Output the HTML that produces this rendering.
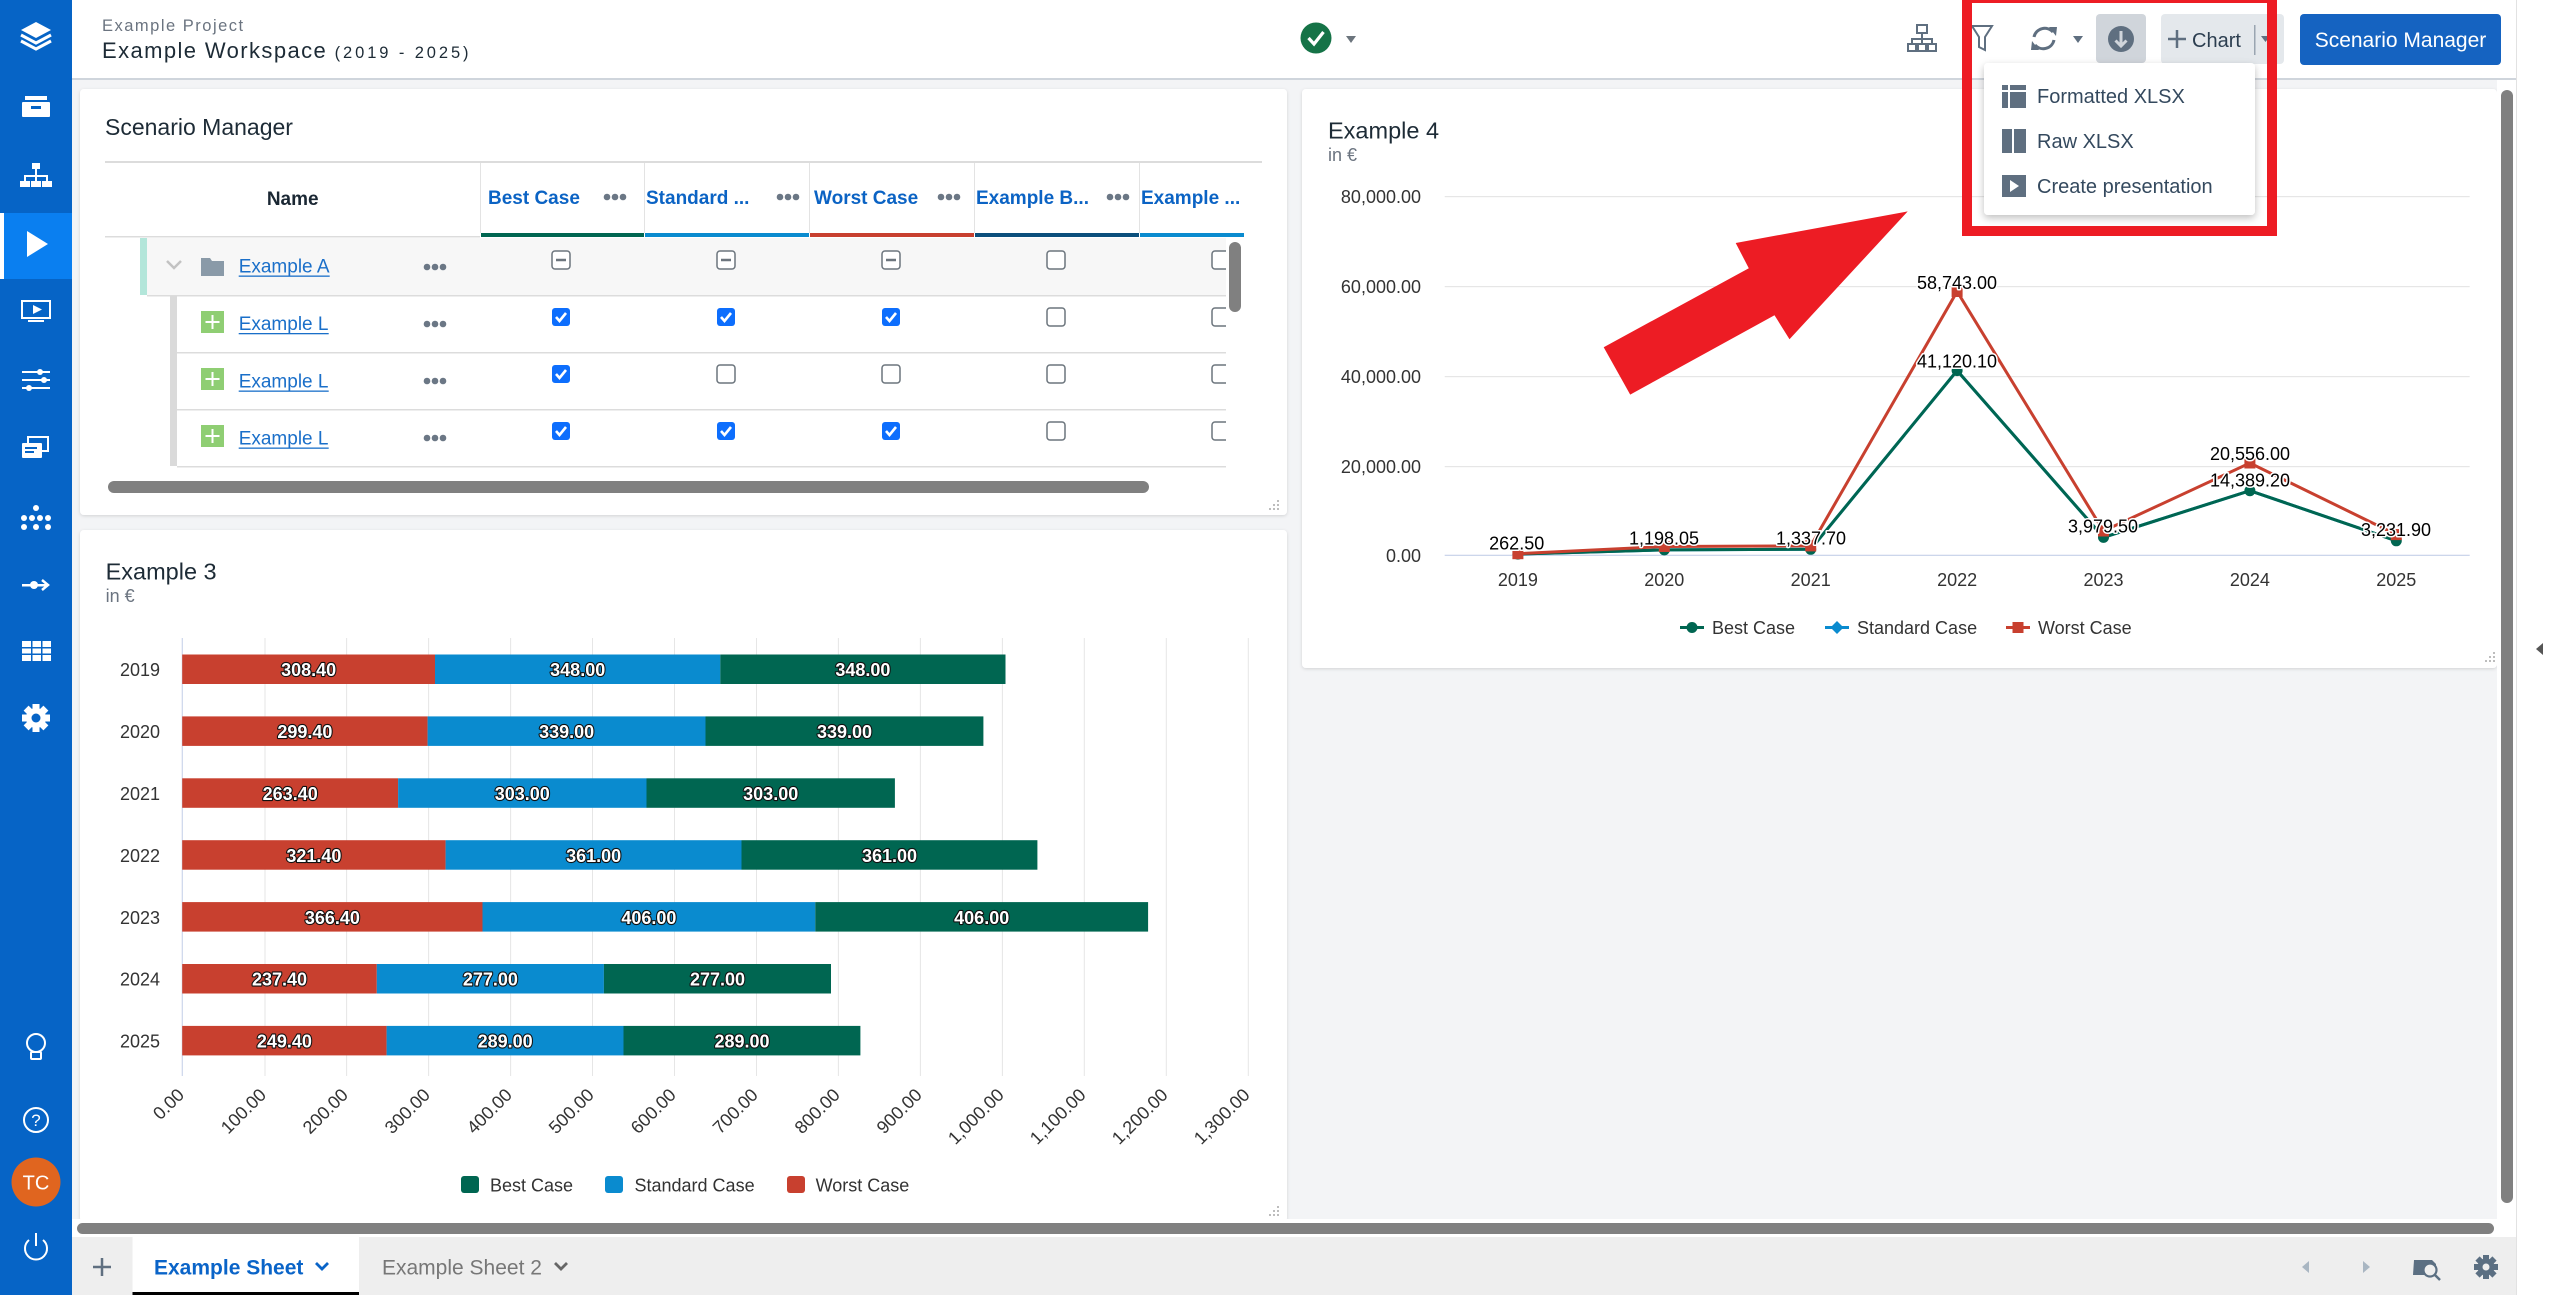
<!DOCTYPE html>
<html><head><meta charset="utf-8"><style>
html,body{margin:0;padding:0;width:2559px;height:1295px;overflow:hidden;background:#f3f4f6}
svg{display:block}
</style></head><body>
<svg width="2559" height="1295" viewBox="0 0 2559 1295" font-family="Liberation Sans, Arial, sans-serif">
<defs>
<filter id="sh" x="-3%" y="-3%" width="106%" height="106%"><feDropShadow dx="0" dy="1" stdDeviation="1.5" flood-color="#000" flood-opacity="0.14"/></filter>
<filter id="sh2" x="-10%" y="-10%" width="120%" height="130%"><feDropShadow dx="0" dy="3" stdDeviation="4" flood-color="#000" flood-opacity="0.25"/></filter>
<clipPath id="tbl"><rect x="100" y="150" width="1126" height="330"/></clipPath>
</defs>

<!-- background -->
<rect x="0" y="0" width="2559" height="1295" fill="#f3f4f6"/>
<!-- header -->
<rect x="72" y="0" width="2444" height="78" fill="#fff"/>
<rect x="72" y="78" width="2444" height="2" fill="#cfd5dc"/>
<!-- right strip -->
<rect x="2516" y="0" width="43" height="1295" fill="#fff"/>
<rect x="2516" y="0" width="1" height="1295" fill="#e2e2e2"/>
<polygon points="2543,643 2543,655 2536,649" fill="#555"/>

<!-- sidebar -->
<rect x="0" y="0" width="72" height="1295" fill="#0664c6"/>
<rect x="0" y="213" width="72" height="66" fill="#0a7ff0"/>
<rect x="0" y="213" width="4" height="66" fill="#fff"/>
<g fill="#fff" stroke="none">
  <polygon points="36,22 51,30 36,38 21,30"/>
  <polyline points="21,35 36,43 51,35" fill="none" stroke="#fff" stroke-width="3"/>
  <polyline points="21,41 36,49 51,41" fill="none" stroke="#fff" stroke-width="3"/>
  <rect x="25" y="96" width="22" height="4"/>
  <rect x="22" y="102" width="28" height="15" rx="1"/>
  <rect x="31" y="106" width="10" height="3" fill="#0664c6"/>
  <rect x="32" y="163" width="8" height="6"/>
  <rect x="35" y="169" width="2" height="7"/>
  <rect x="24" y="175" width="24" height="2"/>
  <rect x="24" y="175" width="2" height="6"/><rect x="35" y="175" width="2" height="6"/><rect x="46" y="175" width="2" height="6"/>
  <rect x="20" y="181" width="10" height="6"/><rect x="31" y="181" width="10" height="6"/><rect x="42" y="181" width="10" height="6"/>
  <polygon points="27,231 48,244 27,257"/>
  <rect x="22" y="301" width="28" height="17" fill="none" stroke="#fff" stroke-width="2"/>
  <polygon points="33,305 42,309.5 33,314"/>
  <rect x="28" y="320" width="16" height="2"/>
  <rect x="22" y="371" width="28" height="2"/><rect x="22" y="379" width="28" height="2"/><rect x="22" y="387" width="28" height="2"/>
  <circle cx="40" cy="372" r="3"/><circle cx="44" cy="380" r="3"/><circle cx="29" cy="388" r="3"/>
  <rect x="28" y="437" width="20" height="14" fill="none" stroke="#fff" stroke-width="2"/>
  <rect x="22" y="443" width="20" height="15" rx="1"/>
  <rect x="25" y="447" width="12" height="2" fill="#0664c6"/><rect x="25" y="451" width="9" height="2" fill="#0664c6"/>
  <circle cx="36" cy="508" r="3"/>
  <circle cx="24" cy="518" r="3"/><circle cx="32" cy="518" r="3"/><circle cx="40" cy="518" r="3"/><circle cx="48" cy="518" r="3"/>
  <circle cx="24" cy="527" r="3"/><circle cx="36" cy="527" r="3"/><circle cx="48" cy="527" r="3"/>
  <rect x="22" y="584" width="24" height="2.5"/>
  <circle cx="34" cy="585" r="4"/>
  <polyline points="42,580 48,585 42,590" fill="none" stroke="#fff" stroke-width="2.5"/>
  <rect x="22" y="641" width="29" height="20"/>
  <rect x="22" y="647" width="29" height="1.5" fill="#0664c6"/><rect x="22" y="653.5" width="29" height="1.5" fill="#0664c6"/>
  <rect x="31" y="641" width="1.5" height="20" fill="#0664c6"/><rect x="41" y="641" width="1.5" height="20" fill="#0664c6"/>
  <g transform="translate(36,718)">
    <circle r="10"/>
    <rect x="-3.5" y="-14" width="7" height="28"/>
    <rect x="-3.5" y="-14" width="7" height="28" transform="rotate(45)"/>
    <rect x="-3.5" y="-14" width="7" height="28" transform="rotate(90)"/>
    <rect x="-3.5" y="-14" width="7" height="28" transform="rotate(135)"/>
    <circle r="4.5" fill="#0664c6"/>
  </g>
  <circle cx="36" cy="1043" r="9" fill="none" stroke="#fff" stroke-width="2"/>
  <rect x="31" y="1052" width="10" height="7" rx="1" fill="none" stroke="#fff" stroke-width="2"/>
  <circle cx="36" cy="1120" r="12" fill="none" stroke="#fff" stroke-width="2"/>
  <text x="36" y="1126" font-size="17" text-anchor="middle" fill="#fff">?</text>
  <circle cx="36" cy="1182" r="24.5" fill="#e0651f"/>
  <text x="36" y="1189.5" font-size="20" text-anchor="middle" fill="#fff">TC</text>
  <path d="M29,1240 A11,11 0 1 0 43,1240" fill="none" stroke="#fff" stroke-width="2"/>
  <rect x="35" y="1233" width="2" height="13"/>
</g>

<!-- header texts -->
<text x="102" y="31" font-size="16.5" fill="#6b7480" letter-spacing="1.5">Example Project</text>
<text x="102" y="58" font-size="22" fill="#1d2b36" letter-spacing="1.4">Example Workspace <tspan font-size="16.5" letter-spacing="2.9">(2019 - 2025)</tspan></text>

<!-- header toolbar -->
<circle cx="1316" cy="38" r="15.5" fill="#157347"/>
<polyline points="1308.5,38 1314,44 1323.5,32" fill="none" stroke="#fff" stroke-width="3.2"/>
<polygon points="1346,36 1356,36 1351,43" fill="#6c757d"/>
<g fill="none" stroke="#5f6f80" stroke-width="2">
  <rect x="1917" y="25" width="10" height="8"/>
  <path d="M1922,33 V39 M1912,43 V39 H1932 V43 M1922,39 V43"/>
  <rect x="1908" y="44" width="8" height="7"/><rect x="1918" y="44" width="8" height="7"/><rect x="1928" y="44" width="8" height="7"/>
  <path d="M1972,26 H1992 L1985,37 V50 L1979,47 V37 Z"/>
  <path d="M2034,37 A11,11 0 0 1 2053,32" stroke-width="3"/>
  <path d="M2054,40 A11,11 0 0 1 2035,45" stroke-width="3"/>
</g>
<polygon points="2049,27 2057,27 2056,36" fill="#5f6f80"/>
<polygon points="2039,50 2031,50 2032,41" fill="#5f6f80"/>
<polygon points="2073,36 2083,36 2078,43" fill="#5f6f80"/>
<rect x="2096" y="14" width="50" height="49" rx="4" fill="#d0d5db"/>
<circle cx="2121" cy="39" r="13" fill="#5f6f80"/>
<path d="M2121,31 V46 M2115.5,40.5 L2121,46 L2126.5,40.5" fill="none" stroke="#d0d5db" stroke-width="3"/>
<rect x="2161" y="14" width="123" height="50" rx="4" fill="#e4e8ec"/>
<path d="M2177,30 V48 M2168,39 H2186" stroke="#5f6f80" stroke-width="2.5"/>
<text x="2192" y="47" font-size="20" fill="#2c3e50">Chart</text>
<rect x="2254" y="25" width="1.5" height="30" fill="#9aa5b1"/>
<polygon points="2261,36 2270,36 2265.5,42" fill="#5f6f80"/>
<rect x="2300" y="14" width="201" height="51" rx="4" fill="#1563c1"/>
<text x="2400.5" y="47" font-size="21" fill="#fff" text-anchor="middle">Scenario Manager</text>

<!-- ===== Scenario Manager panel ===== -->
<rect x="80" y="89" width="1207" height="426" rx="4" fill="#fff" filter="url(#sh)"/>
<text x="105" y="135" font-size="23" fill="#1d2b36">Scenario Manager</text>
<rect x="105" y="161" width="1157" height="2" fill="#dcdcdc"/>
<text x="292.7" y="205" font-size="19" font-weight="bold" fill="#1a2733" text-anchor="middle">Name</text>
<g fill="#e3e3e3">
  <rect x="480" y="163" width="1" height="70"/><rect x="644" y="163" width="1" height="70"/>
  <rect x="809" y="163" width="1" height="70"/><rect x="974" y="163" width="1" height="70"/>
  <rect x="1139" y="163" width="1" height="70"/>
</g>
<rect x="481" y="233" width="163" height="4" fill="#006651"/>
<rect x="645" y="233" width="164" height="4" fill="#0a8bcf"/>
<rect x="810" y="233" width="164" height="4" fill="#c8402f"/>
<rect x="975" y="233" width="164" height="4" fill="#0b4f7c"/>
<rect x="1140" y="233" width="104" height="4" fill="#0a8bcf"/>
<rect x="105" y="236" width="375" height="1.5" fill="#dcdcdc"/>
<g font-size="19" font-weight="bold" fill="#0b63c4">
  <text x="488" y="204">Best Case</text>
  <text x="646" y="204">Standard ...</text>
  <text x="814" y="204">Worst Case</text>
  <text x="976" y="204">Example B...</text>
  <text x="1141" y="204">Example ...</text>
</g>
<g fill="#6b7785">
  <circle cx="607" cy="197" r="3.3"/><circle cx="615" cy="197" r="3.3"/><circle cx="623" cy="197" r="3.3"/>
  <circle cx="780" cy="197" r="3.3"/><circle cx="788" cy="197" r="3.3"/><circle cx="796" cy="197" r="3.3"/>
  <circle cx="941" cy="197" r="3.3"/><circle cx="949" cy="197" r="3.3"/><circle cx="957" cy="197" r="3.3"/>
  <circle cx="1110" cy="197" r="3.3"/><circle cx="1118" cy="197" r="3.3"/><circle cx="1126" cy="197" r="3.3"/>
</g>
<g clip-path="url(#tbl)">
  <rect x="140" y="238" width="1090" height="57" fill="#f7f7f7"/>
  <rect x="140" y="238" width="7" height="57" fill="#b3e6da"/>
  <rect x="147" y="295" width="1083" height="1.5" fill="#dcdcdc"/>
  <rect x="170" y="296" width="7" height="170" fill="#dadada"/>
  <rect x="177" y="352" width="1053" height="1.5" fill="#dcdcdc"/>
  <rect x="177" y="409" width="1053" height="1.5" fill="#dcdcdc"/>
  <rect x="177" y="466" width="1053" height="1.5" fill="#dcdcdc"/>
  <polyline points="167,261 174,268 181,261" fill="none" stroke="#c2c2c2" stroke-width="2.5"/>
  <path d="M201,258 H210 L212,261 H224 V276 H201 Z" fill="#8a9aa8"/>
  <g fill="#8fce73"><rect x="201" y="311" width="23" height="22"/><rect x="201" y="368" width="23" height="22"/><rect x="201" y="425" width="23" height="22"/></g>
  <g stroke="#fff" stroke-width="2"><path d="M212.5,315 V329 M205.5,322 H219.5"/><path d="M212.5,372 V386 M205.5,379 H219.5"/><path d="M212.5,429 V443 M205.5,436 H219.5"/></g>
  <g font-size="19" fill="#1a6fc9">
    <text x="238.7" y="272.5">Example A</text>
    <text x="238.7" y="330">Example L</text>
    <text x="238.7" y="387.5">Example L</text>
    <text x="238.7" y="444.5">Example L</text>
  </g>
  <g fill="#1a6fc9">
    <rect x="238.7" y="275.5" width="91" height="1.3"/>
    <rect x="238.7" y="333" width="90" height="1.3"/>
    <rect x="238.7" y="390.5" width="90" height="1.3"/>
    <rect x="238.7" y="447.5" width="90" height="1.3"/>
  </g>
  <g fill="#6b7785">
    <circle cx="427" cy="267" r="3.3"/><circle cx="435" cy="267" r="3.3"/><circle cx="443" cy="267" r="3.3"/>
    <circle cx="427" cy="324" r="3.3"/><circle cx="435" cy="324" r="3.3"/><circle cx="443" cy="324" r="3.3"/>
    <circle cx="427" cy="381" r="3.3"/><circle cx="435" cy="381" r="3.3"/><circle cx="443" cy="381" r="3.3"/>
    <circle cx="427" cy="438" r="3.3"/><circle cx="435" cy="438" r="3.3"/><circle cx="443" cy="438" r="3.3"/>
  </g>
  <!-- unchecked boxes -->
  <g fill="#fff" stroke="#6c757d" stroke-width="1.5">
    <rect x="552" y="251" width="18" height="18" rx="3"/><rect x="717" y="251" width="18" height="18" rx="3"/><rect x="882" y="251" width="18" height="18" rx="3"/>
    <rect x="1047" y="251" width="18" height="18" rx="3"/><rect x="1212" y="251" width="18" height="18" rx="3"/>
    <rect x="1047" y="308" width="18" height="18" rx="3"/><rect x="1212" y="308" width="18" height="18" rx="3"/>
    <rect x="717" y="365" width="18" height="18" rx="3"/><rect x="882" y="365" width="18" height="18" rx="3"/>
    <rect x="1047" y="365" width="18" height="18" rx="3"/><rect x="1212" y="365" width="18" height="18" rx="3"/>
    <rect x="1047" y="422" width="18" height="18" rx="3"/><rect x="1212" y="422" width="18" height="18" rx="3"/>
  </g>
  <g stroke="#6c757d" stroke-width="2.5"><path d="M556,260 H566 M721,260 H731 M886,260 H896"/></g>
  <!-- checked -->
  <g fill="#0d6efd">
    <rect x="552" y="308" width="18" height="18" rx="3"/><rect x="717" y="308" width="18" height="18" rx="3"/><rect x="882" y="308" width="18" height="18" rx="3"/>
    <rect x="552" y="365" width="18" height="18" rx="3"/>
    <rect x="552" y="422" width="18" height="18" rx="3"/><rect x="717" y="422" width="18" height="18" rx="3"/><rect x="882" y="422" width="18" height="18" rx="3"/>
  </g>
  <g fill="none" stroke="#fff" stroke-width="2.6">
    <path d="M556,317 l3.5,4 l6.5,-8"/><path d="M721,317 l3.5,4 l6.5,-8"/><path d="M886,317 l3.5,4 l6.5,-8"/>
    <path d="M556,374 l3.5,4 l6.5,-8"/>
    <path d="M556,431 l3.5,4 l6.5,-8"/><path d="M721,431 l3.5,4 l6.5,-8"/><path d="M886,431 l3.5,4 l6.5,-8"/>
  </g>
</g>
<rect x="1229" y="242" width="12" height="70" rx="6" fill="#808080"/>
<rect x="108" y="481" width="1041" height="12" rx="6" fill="#808080"/>
<g fill="#bdbdbd"><rect x="1277" y="500" width="2" height="2"/><rect x="1273" y="504" width="2" height="2"/><rect x="1277" y="504" width="2" height="2"/><rect x="1269" y="508" width="2" height="2"/><rect x="1273" y="508" width="2" height="2"/><rect x="1277" y="508" width="2" height="2"/></g>

<!-- ===== Example 3 panel ===== -->
<rect x="80" y="530" width="1207" height="692" rx="4" fill="#fff" filter="url(#sh)"/>
<text x="105.6" y="579.5" font-size="23.5" fill="#1d2b36">Example 3</text>
<text x="105.6" y="602" font-size="18" fill="#6b7480">in €</text>
<g fill="#e6e6e6">
  <rect x="264.5" y="638" width="1" height="438"/><rect x="346.1" y="638" width="1" height="438"/>
  <rect x="428.1" y="638" width="1" height="438"/><rect x="510.1" y="638" width="1" height="438"/>
  <rect x="592.0" y="638" width="1" height="438"/><rect x="674.0" y="638" width="1" height="438"/>
  <rect x="756.0" y="638" width="1" height="438"/><rect x="837.9" y="638" width="1" height="438"/>
  <rect x="919.9" y="638" width="1" height="438"/><rect x="1001.9" y="638" width="1" height="438"/>
  <rect x="1083.8" y="638" width="1" height="438"/><rect x="1165.8" y="638" width="1" height="438"/>
  <rect x="1247.8" y="638" width="1" height="438"/>
</g>
<rect x="181.7" y="638" width="1.2" height="438" fill="#ccd6eb"/>
<!-- bars -->
<g>
  <rect x="182.2" y="654.5" width="252.8" height="29.5" fill="#c8402f"/><rect x="435" y="654.5" width="285.3" height="29.5" fill="#0a8bcf"/><rect x="720.3" y="654.5" width="285.2" height="29.5" fill="#006651"/>
  <rect x="182.2" y="716.4" width="245.4" height="29.5" fill="#c8402f"/><rect x="427.6" y="716.4" width="277.9" height="29.5" fill="#0a8bcf"/><rect x="705.5" y="716.4" width="277.9" height="29.5" fill="#006651"/>
  <rect x="182.2" y="778.3" width="215.9" height="29.5" fill="#c8402f"/><rect x="398.1" y="778.3" width="248.4" height="29.5" fill="#0a8bcf"/><rect x="646.5" y="778.3" width="248.4" height="29.5" fill="#006651"/>
  <rect x="182.2" y="840.2" width="263.4" height="29.5" fill="#c8402f"/><rect x="445.6" y="840.2" width="295.9" height="29.5" fill="#0a8bcf"/><rect x="741.5" y="840.2" width="295.9" height="29.5" fill="#006651"/>
  <rect x="182.2" y="902.1" width="300.3" height="29.5" fill="#c8402f"/><rect x="482.5" y="902.1" width="332.8" height="29.5" fill="#0a8bcf"/><rect x="815.3" y="902.1" width="332.8" height="29.5" fill="#006651"/>
  <rect x="182.2" y="964.0" width="194.6" height="29.5" fill="#c8402f"/><rect x="376.8" y="964.0" width="227.1" height="29.5" fill="#0a8bcf"/><rect x="603.9" y="964.0" width="227.1" height="29.5" fill="#006651"/>
  <rect x="182.2" y="1025.9" width="204.4" height="29.5" fill="#c8402f"/><rect x="386.6" y="1025.9" width="236.9" height="29.5" fill="#0a8bcf"/><rect x="623.5" y="1025.9" width="236.9" height="29.5" fill="#006651"/>
</g>
<g font-size="18" font-weight="bold" fill="#fff" stroke="#111" stroke-width="2.2" paint-order="stroke" stroke-linejoin="round" text-anchor="middle">
  <text x="308.6" y="676">308.40</text><text x="577.7" y="676">348.00</text><text x="862.9" y="676">348.00</text>
  <text x="304.9" y="738">299.40</text><text x="566.6" y="738">339.00</text><text x="844.5" y="738">339.00</text>
  <text x="290.2" y="800">263.40</text><text x="522.3" y="800">303.00</text><text x="770.7" y="800">303.00</text>
  <text x="313.9" y="862">321.40</text><text x="593.6" y="862">361.00</text><text x="889.5" y="862">361.00</text>
  <text x="332.4" y="924">366.40</text><text x="648.9" y="924">406.00</text><text x="981.7" y="924">406.00</text>
  <text x="279.5" y="985.5">237.40</text><text x="490.4" y="985.5">277.00</text><text x="717.5" y="985.5">277.00</text>
  <text x="284.4" y="1047.5">249.40</text><text x="505.1" y="1047.5">289.00</text><text x="742.0" y="1047.5">289.00</text>
</g>
<g font-size="18" fill="#333" text-anchor="end">
  <text x="160" y="676">2019</text><text x="160" y="738">2020</text><text x="160" y="800">2021</text>
  <text x="160" y="862">2022</text><text x="160" y="924">2023</text><text x="160" y="985.5">2024</text><text x="160" y="1047.5">2025</text>
</g>
<g font-size="18" fill="#333" text-anchor="end">
  <text transform="translate(185.2,1096) rotate(-45)">0.00</text>
  <text transform="translate(267.2,1096) rotate(-45)">100.00</text>
  <text transform="translate(349.1,1096) rotate(-45)">200.00</text>
  <text transform="translate(431.1,1096) rotate(-45)">300.00</text>
  <text transform="translate(513.1,1096) rotate(-45)">400.00</text>
  <text transform="translate(595.0,1096) rotate(-45)">500.00</text>
  <text transform="translate(677.0,1096) rotate(-45)">600.00</text>
  <text transform="translate(759.0,1096) rotate(-45)">700.00</text>
  <text transform="translate(840.9,1096) rotate(-45)">800.00</text>
  <text transform="translate(922.9,1096) rotate(-45)">900.00</text>
  <text transform="translate(1004.9,1096) rotate(-45)">1,000.00</text>
  <text transform="translate(1086.8,1096) rotate(-45)">1,100.00</text>
  <text transform="translate(1168.8,1096) rotate(-45)">1,200.00</text>
  <text transform="translate(1250.8,1096) rotate(-45)">1,300.00</text>
</g>
<rect x="461" y="1176" width="18" height="17" rx="3" fill="#006651"/>
<text x="490" y="1191.5" font-size="18" fill="#333">Best Case</text>
<rect x="605" y="1176" width="18" height="17" rx="3" fill="#0a8bcf"/>
<text x="634.5" y="1191.5" font-size="18" fill="#333">Standard Case</text>
<rect x="787" y="1176" width="18" height="17" rx="3" fill="#c8402f"/>
<text x="815.6" y="1191.5" font-size="18" fill="#333">Worst Case</text>
<g fill="#bdbdbd"><rect x="1277" y="1206" width="2" height="2"/><rect x="1273" y="1210" width="2" height="2"/><rect x="1277" y="1210" width="2" height="2"/><rect x="1269" y="1214" width="2" height="2"/><rect x="1273" y="1214" width="2" height="2"/><rect x="1277" y="1214" width="2" height="2"/></g>

<!-- ===== Example 4 panel ===== -->
<rect x="1302" y="89" width="1195" height="579" rx="4" fill="#fff" filter="url(#sh)"/>
<text x="1328" y="138.5" font-size="23.5" fill="#1d2b36">Example 4</text>
<text x="1328" y="161" font-size="18" fill="#6b7480">in €</text>
<g fill="#e6e6e6">
  <rect x="1444.7" y="196" width="1025" height="1.2"/>
  <rect x="1444.7" y="286" width="1025" height="1.2"/>
  <rect x="1444.7" y="376" width="1025" height="1.2"/>
  <rect x="1444.7" y="466" width="1025" height="1.2"/>
</g>
<rect x="1444.7" y="554.7" width="1025" height="1.3" fill="#ccd6eb"/>
<g font-size="18" fill="#333" text-anchor="end">
  <text x="1421" y="203">80,000.00</text>
  <text x="1421" y="293">60,000.00</text>
  <text x="1421" y="383">40,000.00</text>
  <text x="1421" y="473">20,000.00</text>
  <text x="1421" y="562">0.00</text>
</g>
<g font-size="18" fill="#333" text-anchor="middle">
  <text x="1517.9" y="586">2019</text><text x="1664.3" y="586">2020</text><text x="1810.7" y="586">2021</text>
  <text x="1957.1" y="586">2022</text><text x="2103.5" y="586">2023</text><text x="2249.9" y="586">2024</text><text x="2396.3" y="586">2025</text>
</g>
<polyline points="1517.9,554.1 1664.3,549.9 1810.7,549.3 1957.1,370.6 2103.5,537.4 2249.9,490.7 2396.3,540.8" fill="none" stroke="#0a8bcf" stroke-width="3"/>
<polyline points="1517.9,554.1 1664.3,549.9 1810.7,549.3 1957.1,370.6 2103.5,537.4 2249.9,490.7 2396.3,540.8" fill="none" stroke="#006651" stroke-width="3"/>
<g fill="#006651">
  <circle cx="1517.9" cy="554.1" r="5.5"/><circle cx="1664.3" cy="549.9" r="5.5"/><circle cx="1810.7" cy="549.3" r="5.5"/>
  <circle cx="1957.1" cy="370.6" r="5.5"/><circle cx="2103.5" cy="537.4" r="5.5"/><circle cx="2249.9" cy="490.7" r="5.5"/><circle cx="2396.3" cy="540.8" r="5.5"/>
</g>
<polyline points="1517.9,553.7 1664.3,546.5 1810.7,545.9 1957.1,291.5 2103.5,531.0 2249.9,463.0 2396.3,534.6" fill="none" stroke="#c8402f" stroke-width="3"/>
<g fill="#c8402f">
  <rect x="1512.4" y="548.2" width="11" height="11"/><rect x="1658.8" y="541" width="11" height="11"/><rect x="1805.2" y="540.4" width="11" height="11"/>
  <rect x="1951.6" y="286" width="11" height="11"/><rect x="2098" y="525.5" width="11" height="11"/><rect x="2244.4" y="457.5" width="11" height="11"/><rect x="2390.8" y="529.1" width="11" height="11"/>
</g>
<g font-size="18" fill="#000" stroke="#fff" stroke-width="3" paint-order="stroke" stroke-linejoin="round" text-anchor="middle">
  <text x="1516.7" y="549.5">262.50</text>
  <text x="1664" y="544.5">1,198.05</text>
  <text x="1811" y="544.5">1,337.70</text>
  <text x="1957" y="289">58,743.00</text>
  <text x="1957" y="367.5">41,120.10</text>
  <text x="2103" y="532.5">3,979.50</text>
  <text x="2250" y="460">20,556.00</text>
  <text x="2250" y="486.5">14,389.20</text>
  <text x="2396" y="536">3,231.90</text>
</g>
<rect x="1680" y="626" width="24" height="3" fill="#006651"/><circle cx="1692" cy="627.5" r="5.5" fill="#006651"/>
<text x="1712" y="634" font-size="18" fill="#333">Best Case</text>
<rect x="1825" y="626" width="24" height="3" fill="#0a8bcf"/><polygon points="1837,621 1843.5,627.5 1837,634 1830.5,627.5" fill="#0a8bcf"/>
<text x="1857" y="634" font-size="18" fill="#333">Standard Case</text>
<rect x="2006" y="626" width="24" height="3" fill="#c8402f"/><rect x="2012.5" y="622" width="11" height="11" fill="#c8402f"/>
<text x="2038" y="634" font-size="18" fill="#333">Worst Case</text>
<g fill="#bdbdbd"><rect x="2493" y="652" width="2" height="2"/><rect x="2489" y="656" width="2" height="2"/><rect x="2493" y="656" width="2" height="2"/><rect x="2485" y="660" width="2" height="2"/><rect x="2489" y="660" width="2" height="2"/><rect x="2493" y="660" width="2" height="2"/></g>

<!-- main scrollbars -->
<rect x="2497" y="80" width="19" height="1139" fill="#fff"/>
<rect x="2501" y="90" width="12" height="1113" rx="6" fill="#808080"/>
<rect x="72" y="1219" width="2444" height="18" fill="#fff"/>
<rect x="77" y="1223" width="2417" height="11" rx="5.5" fill="#808080"/>

<!-- tab bar -->
<rect x="72" y="1237" width="2444" height="58" fill="#eeeeee"/>
<path d="M102,1258 V1276 M93,1267 H111" stroke="#5f6f80" stroke-width="2.5"/>
<rect x="132.5" y="1237" width="226.5" height="58" fill="#fff"/>
<rect x="132.5" y="1292" width="226.5" height="3" fill="#000"/>
<text x="154" y="1274.5" font-size="21" font-weight="bold" fill="#0a64c8">Example Sheet</text>
<polyline points="316,1263 322,1269 328,1263" fill="none" stroke="#0a64c8" stroke-width="2.8"/>
<text x="382" y="1274.5" font-size="21" fill="#777">Example Sheet 2</text>
<polyline points="555,1263 561,1269 567,1263" fill="none" stroke="#666" stroke-width="2.8"/>
<polygon points="2309,1261 2309,1273 2302,1267" fill="#a9b6c2"/>
<polygon points="2363,1261 2363,1273 2370,1267" fill="#a9b6c2"/>
<path d="M2414,1260 H2432 L2436,1264 V1275 H2413 Z" fill="#5b6f82"/>
<circle cx="2430" cy="1270" r="6.5" fill="#eeeeee" stroke="#5b6f82" stroke-width="2.2"/>
<path d="M2434.5,1274.5 L2440,1280" stroke="#5b6f82" stroke-width="2.5"/>
<g transform="translate(2486,1267)" fill="#5b6f82">
  <circle r="8.5"/>
  <rect x="-3" y="-12" width="6" height="24"/>
  <rect x="-3" y="-12" width="6" height="24" transform="rotate(45)"/>
  <rect x="-3" y="-12" width="6" height="24" transform="rotate(90)"/>
  <rect x="-3" y="-12" width="6" height="24" transform="rotate(135)"/>
  <circle r="3.5" fill="#eeeeee"/>
</g>

<!-- dropdown menu -->
<rect x="1984" y="63" width="271" height="152" rx="4" fill="#fff" filter="url(#sh2)"/>
<g fill="#5f6f80">
  <rect x="2002" y="85" width="6" height="5"/><rect x="2010" y="85" width="16" height="5"/>
  <rect x="2002" y="92" width="6" height="16"/><rect x="2010" y="92" width="16" height="16"/>
  <rect x="2002" y="129" width="10" height="24"/><rect x="2014" y="129" width="12" height="24"/>
  <rect x="2002" y="175" width="24" height="22"/>
</g>
<polygon points="2010,180 2019,186 2010,192" fill="#fff"/>
<g font-size="20" fill="#34495e">
  <text x="2037" y="103">Formatted XLSX</text>
  <text x="2037" y="148">Raw XLSX</text>
  <text x="2037" y="193">Create presentation</text>
</g>

<!-- annotations -->
<rect x="1967" y="-2" width="305" height="233" fill="none" stroke="#ed1c24" stroke-width="10"/>
<polygon points="1603.7,347.2 1748.8,268.2 1735.7,243 1907.7,211.4 1789.5,339.3 1774.5,315.2 1630.2,394.6" fill="#ed1c24"/>
</svg>
</body></html>
